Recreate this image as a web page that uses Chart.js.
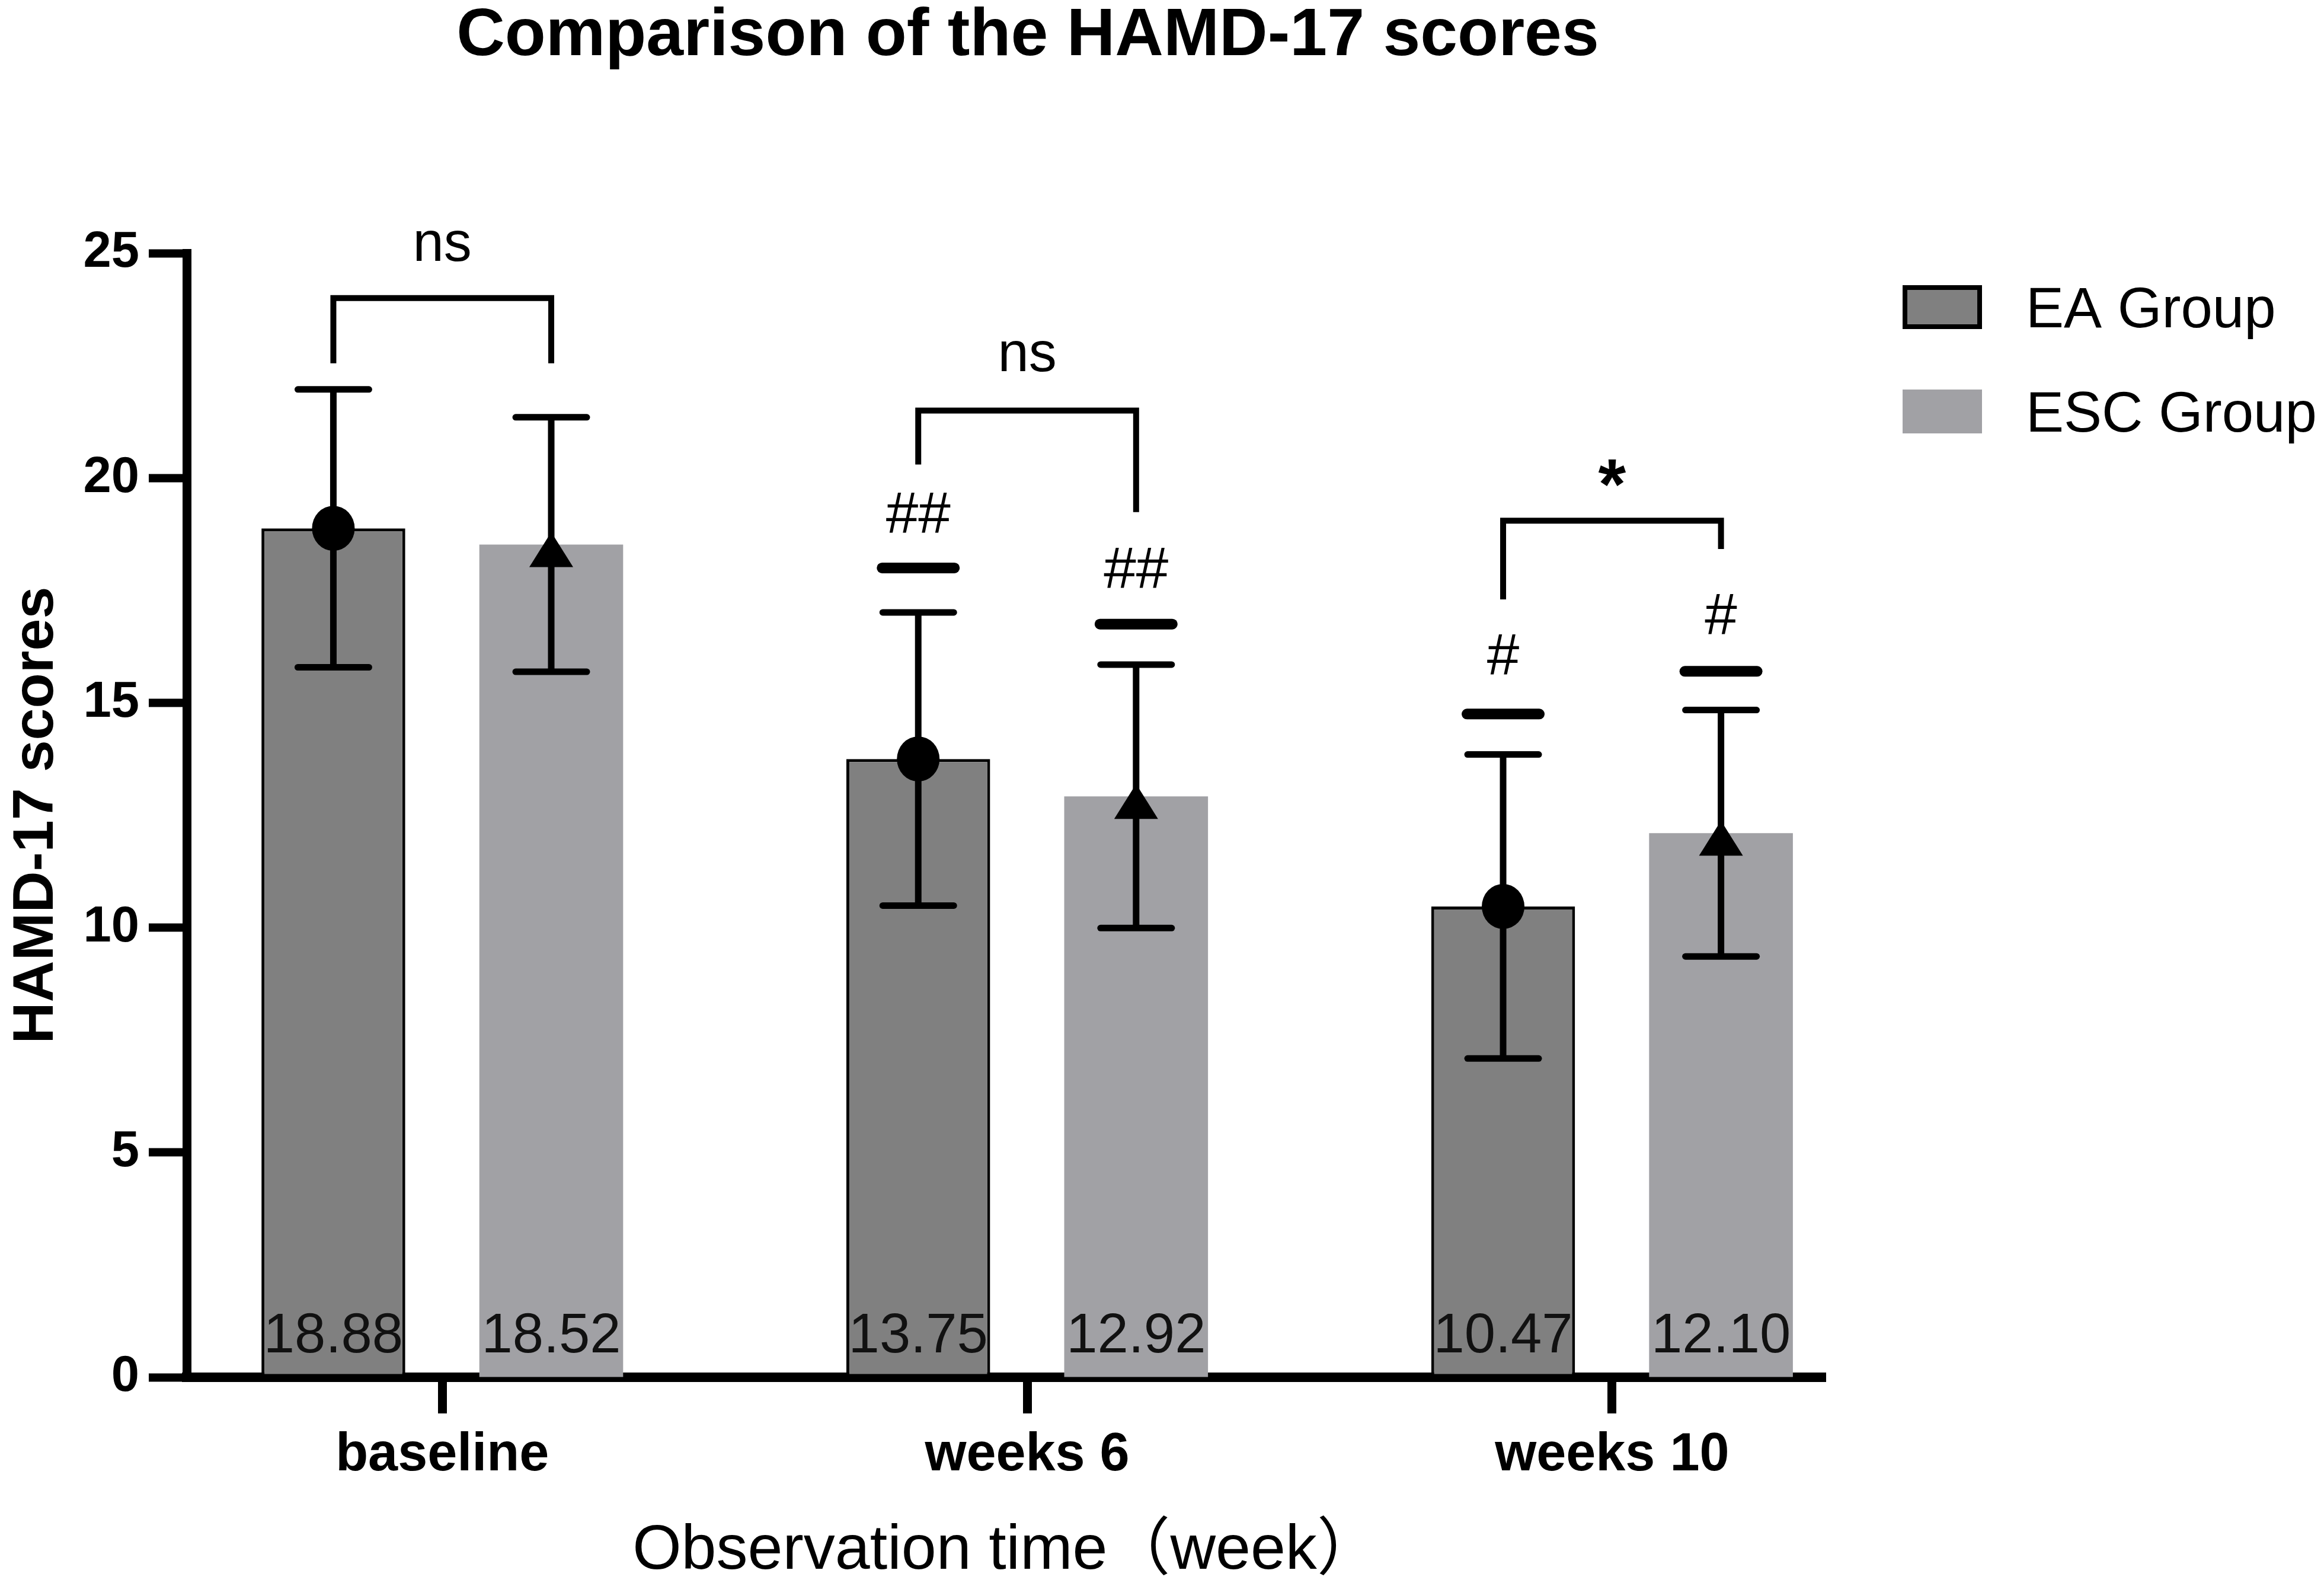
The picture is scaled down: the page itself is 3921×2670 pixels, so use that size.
<!DOCTYPE html>
<html>
<head>
<meta charset="utf-8">
<script src="https://cdn.jsdelivr.net/npm/chart.js@4.4.1/dist/chart.umd.min.js"></script>
<style>
  html, body { margin: 0; padding: 0; background: #fff; }
  #wrap { width: 3921px; height: 2670px; }
</style>
</head>
<body>
<div id="wrap"><canvas id="grafico"></canvas></div>
<script>
const categorias = ["baseline", "weeks 6", "weeks 10"];
const mediaEA = [18.88, 13.75, 10.47];
const mediaESC = [18.52, 12.92, 12.1];
const dpEA = [3.09, 3.26, 3.38];
const dpESC = [2.83, 2.93, 2.74];
const ticksY = [0, 5, 10, 15, 20, 25];

// marcas "#" sobre as barras (vs baseline)
const marcaEA = ["", "##", "#"];
const marcaESC = ["", "##", "#"];
const linhaMarcaEA = [null, 18.0, 14.75];
const linhaMarcaESC = [null, 16.75, 15.7];
const textoMarcaEA = [null, 19.25, 16.1];
const textoMarcaESC = [null, 18.03, 17.0];

// colchetes de comparacao EA x ESC
const sigLabel = ["ns", "ns", "*"];
const sigTopo = [24.0, 21.5, 19.05];
const sigPernaEA = [22.55, 20.3, 17.3];
const sigPernaESC = [22.55, 19.24, 18.42];
const sigTextoY = [25.2, 22.75, 20.05];

const FONTE = "'Liberation Sans', Arial, 'Noto Sans CJK SC', sans-serif";

function linha(ctx, x1, y1, x2, y2) {
  ctx.beginPath();
  ctx.moveTo(x1, y1);
  ctx.lineTo(x2, y2);
  ctx.stroke();
}

const anotacoes = {
  id: "anotacoes",
  afterDatasetsDraw(chart) {
    const ctx = chart.ctx;
    const y = chart.scales.y;
    const barrasEA = chart.getDatasetMeta(0).data;
    const barrasESC = chart.getDatasetMeta(1).data;
    ctx.save();
    ctx.strokeStyle = "#000";
    ctx.fillStyle = "#000";
    ctx.lineCap = "round";

    // valores dentro das barras
    ctx.font = "94px " + FONTE;
    ctx.textAlign = "center";
    ctx.textBaseline = "middle";
    ctx.fillStyle = "#111";
    barrasEA.forEach((b, i) => ctx.fillText(mediaEA[i].toFixed(2), b.x, y.getPixelForValue(0) - 68));
    barrasESC.forEach((b, i) => ctx.fillText(mediaESC[i].toFixed(2), b.x, y.getPixelForValue(0) - 68));
    ctx.fillStyle = "#000";

    // barras de erro (media +- DP)
    const grupos = [
      [barrasEA, mediaEA, dpEA],
      [barrasESC, mediaESC, dpESC],
    ];
    ctx.lineWidth = 11;
    grupos.forEach(([barras, medias, dps]) => {
      barras.forEach((b, i) => {
        const top = y.getPixelForValue(medias[i] + dps[i]);
        const bot = y.getPixelForValue(medias[i] - dps[i]);
        ctx.lineCap = "butt";
        linha(ctx, b.x, top, b.x, bot);
        ctx.lineCap = "round";
        linha(ctx, b.x - 60, top, b.x + 60, top);
        linha(ctx, b.x - 60, bot, b.x + 60, bot);
      });
    });

    // marcadores: circulo (EA) e triangulo (ESC)
    barrasEA.forEach((b, i) => {
      const cy = y.getPixelForValue(mediaEA[i]);
      ctx.beginPath();
      ctx.ellipse(b.x, cy, 36, 38, 0, 0, Math.PI * 2);
      ctx.fill();
    });
    barrasESC.forEach((b, i) => {
      const cy = y.getPixelForValue(mediaESC[i]);
      ctx.beginPath();
      ctx.moveTo(b.x, cy - 21);
      ctx.lineTo(b.x + 37, cy + 38);
      ctx.lineTo(b.x - 37, cy + 38);
      ctx.closePath();
      ctx.fill();
    });

    // "#" e traco grosso
    ctx.font = "98px " + FONTE;
    const marcas = [
      [barrasEA, marcaEA, linhaMarcaEA, textoMarcaEA],
      [barrasESC, marcaESC, linhaMarcaESC, textoMarcaESC],
    ];
    marcas.forEach(([barras, txt, lin, ty]) => {
      barras.forEach((b, i) => {
        if (!txt[i]) return;
        ctx.lineWidth = 18;
        const ly = y.getPixelForValue(lin[i]);
        linha(ctx, b.x - 61, ly, b.x + 61, ly);
        ctx.fillText(txt[i], b.x, y.getPixelForValue(ty[i]) + 9);
      });
    });

    // colchetes de significancia
    ctx.lineWidth = 10;
    ctx.lineCap = "butt";
    ctx.lineJoin = "miter";
    barrasEA.forEach((b, i) => {
      const x1 = b.x;
      const x2 = barrasESC[i].x;
      ctx.beginPath();
      ctx.moveTo(x1, y.getPixelForValue(sigPernaEA[i]));
      ctx.lineTo(x1, y.getPixelForValue(sigTopo[i]));
      ctx.lineTo(x2, y.getPixelForValue(sigTopo[i]));
      ctx.lineTo(x2, y.getPixelForValue(sigPernaESC[i]));
      ctx.stroke();
      ctx.font = sigLabel[i] === "*" ? "bold 120px " + FONTE : "94px " + FONTE;
      const dy = sigLabel[i] === "*" ? 22 : 2;
      ctx.fillText(sigLabel[i], (x1 + x2) / 2, y.getPixelForValue(sigTextoY[i]) + dy);
    });
    ctx.restore();
  },
  afterDraw(chart) {
    const ctx = chart.ctx;
    ctx.save();
    // titulo
    ctx.fillStyle = "#000";
    ctx.font = "bold 113px " + FONTE;
    ctx.textAlign = "center";
    ctx.textBaseline = "middle";
    ctx.fillText("Comparison of the HAMD-17 scores", 1734, 62);

    // legenda
    ctx.font = "96px " + FONTE;
    ctx.textAlign = "left";
    chart.data.datasets.forEach((ds, i) => {
      const top = 481 + i * 176;
      ctx.fillStyle = ds.backgroundColor;
      ctx.fillRect(3210, top, 134, 74);
      if (ds.borderWidth) {
        ctx.lineWidth = 8;
        ctx.strokeStyle = ds.borderColor;
        ctx.strokeRect(3214, top + 4, 126, 66);
      }
      ctx.fillStyle = "#000";
      ctx.fillText(ds.label, 3418, top + 45);
    });
    ctx.restore();
  },
};

const ctx = document.getElementById("grafico").getContext("2d");
new Chart(ctx, {
  type: "bar",
  data: {
    datasets: [
      {
        label: "EA Group",
        data: mediaEA.map((v, i) => ({ x: i, y: v })),
        backgroundColor: "#808080",
        borderColor: "#000",
        borderWidth: 5,
        borderSkipped: false,
      },
      {
        label: "ESC Group",
        data: mediaESC.map((v, i) => ({ x: i, y: v })),
        backgroundColor: "#a1a1a5",
        borderWidth: 0,
      },
    ],
  },
  options: {
    responsive: true,
    maintainAspectRatio: false,
    devicePixelRatio: 1,
    animation: false,
    categoryPercentage: 0.745,
    barPercentage: 0.66,
    layout: { padding: { top: 427, right: 841, bottom: 0, left: 0 } },
    plugins: {
      legend: { display: false },
      title: { display: false },
      tooltip: { enabled: false },
    },
    scales: {
      x: {
        type: "linear",
        min: -0.437,
        max: 2.365,
        offset: false,
        z: 1,
        afterBuildTicks: (s) => {
          s.ticks = categorias.map((c, i) => ({ value: i }));
        },
        afterFit: (s) => {
          s.height = 347;
        },
        grid: {
          offset: false,
          drawOnChartArea: false,
          drawTicks: true,
          tickLength: 61,
          tickWidth: 15,
          tickColor: "#000",
        },
        border: { display: true, width: 16, color: "#000" },
        ticks: {
          callback: (v) => categorias[v],
          padding: 17,
          color: "#000",
          maxRotation: 0,
          autoSkip: false,
          font: { family: FONTE, size: 90, weight: "bold" },
        },
        title: {
          display: true,
          text: "Observation time（week）",
          color: "#000",
          padding: { top: 0, bottom: 0 },
          font: { family: FONTE, size: 106, lineHeight: 1.0 },
        },
      },
      y: {
        min: 0,
        max: 25,
        z: 1,
        afterBuildTicks: (s) => {
          s.ticks = ticksY.map((v) => ({ value: v }));
        },
        afterFit: (s) => {
          s.width = 315;
        },
        grid: {
          drawOnChartArea: false,
          drawTicks: true,
          tickLength: 64,
          tickWidth: 14,
          tickColor: "#000",
        },
        border: { display: true, width: 15, color: "#000" },
        ticks: {
          padding: 16,
          color: "#000",
          font: { family: FONTE, size: 85, weight: "bold" },
        },
        title: {
          display: true,
          text: "HAMD-17 scores",
          color: "#000",
          padding: { top: 4, bottom: 0 },
          font: { family: FONTE, size: 97, weight: "bold" },
        },
      },
    },
  },
  plugins: [anotacoes],
});
</script>
</body>
</html>
